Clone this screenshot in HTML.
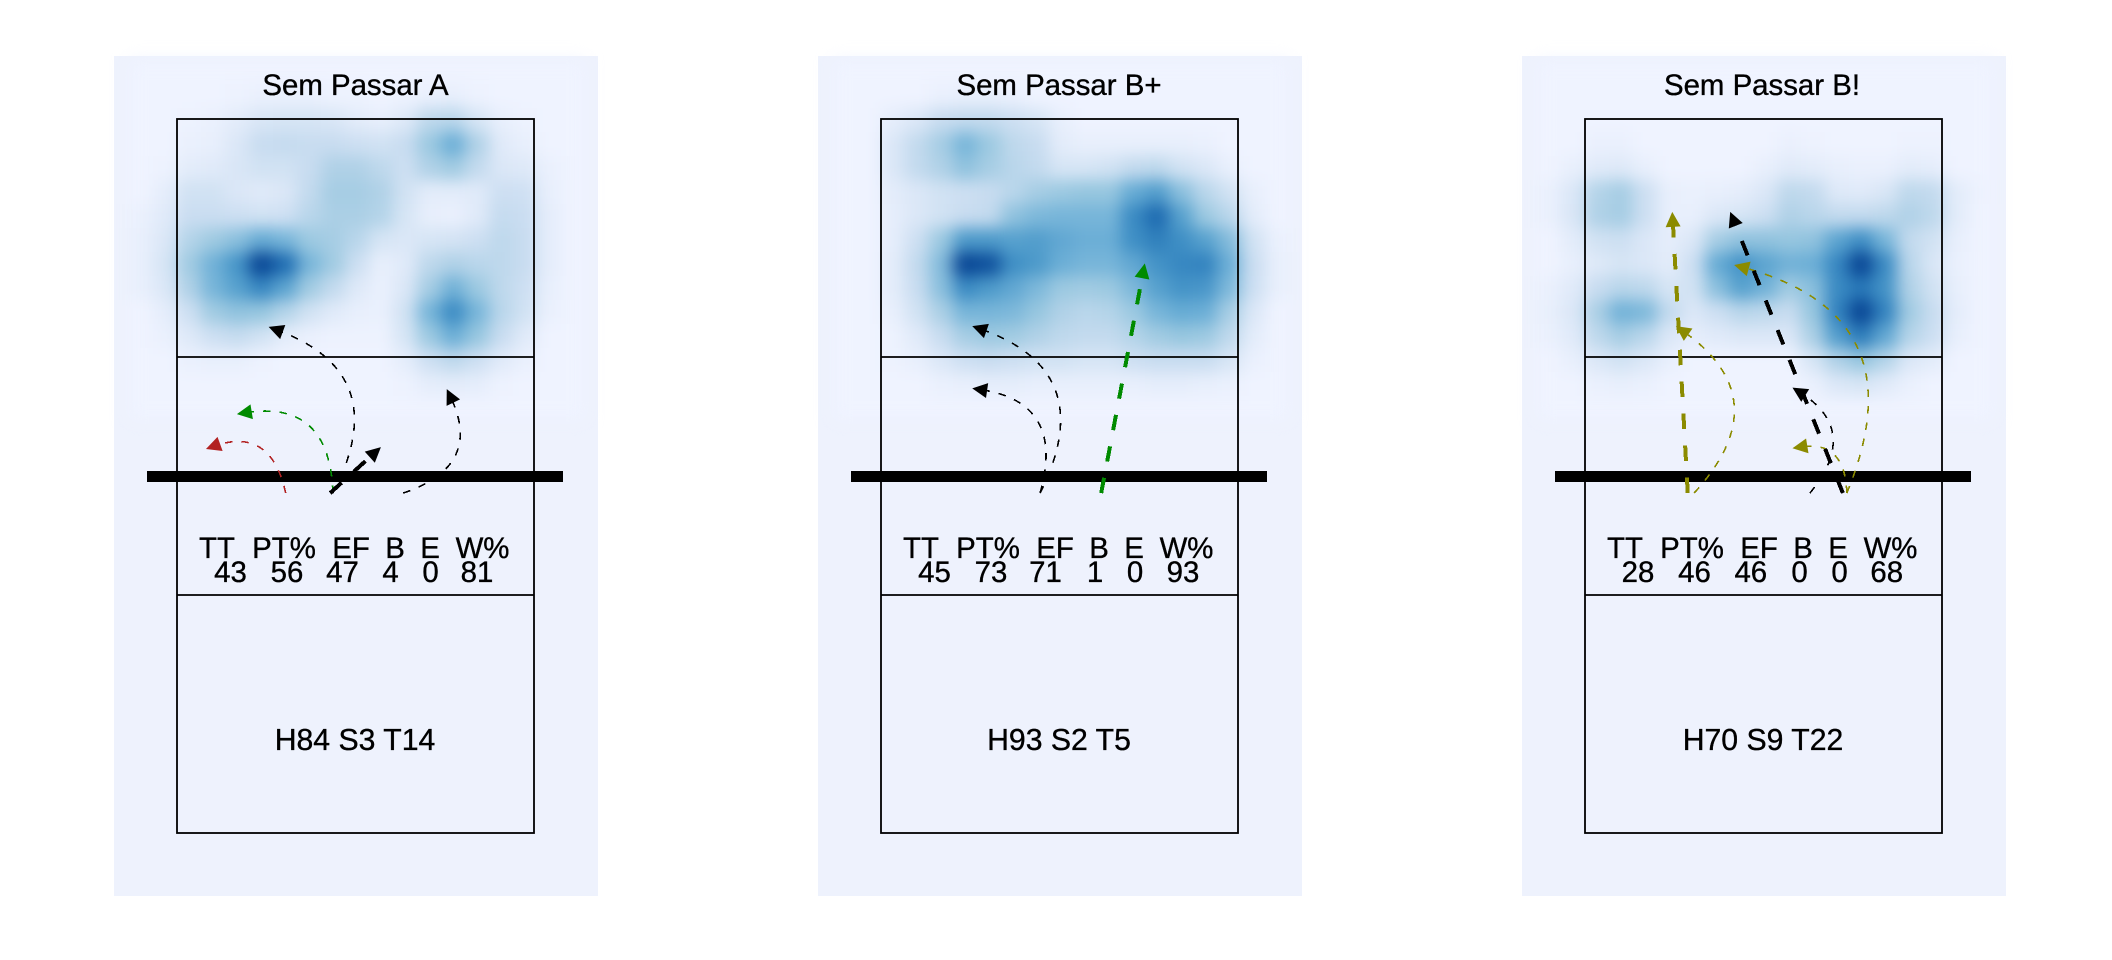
<!DOCTYPE html>
<html lang="pt">
<head>
<meta charset="utf-8">
<title>Sem Passar attack charts</title>
<style>
html,body{margin:0;padding:0;background:#fff;width:2112px;height:960px;overflow:hidden}
svg{display:block}
text{font-family:"Liberation Sans",Arial,sans-serif;fill:#000;stroke:#000;stroke-width:.35px;font-size:29.4px;text-anchor:middle}
text.zone{font-size:30.2px}
.court{fill:none;stroke:#000;stroke-width:1.8}
.panel-bg{fill:#eef2fd}
</style>
</head>
<body>
<svg id="chart" xmlns="http://www.w3.org/2000/svg" width="2112" height="960" viewBox="0 0 2112 960">
  <defs>
    <filter id="heat-blur" filterUnits="userSpaceOnUse" x="60" y="20" width="600" height="460" color-interpolation-filters="sRGB">
      <feGaussianBlur stdDeviation="8"/>
    </filter>
  </defs>
  <rect x="0" y="0" width="2112" height="960" fill="#fff"/>

  <g id="panel-a">
    <rect class="panel-bg" x="114" y="56" width="484" height="840"/>
    <g class="heat" filter="url(#heat-blur)"></g>
    <text x="355.5" y="95">Sem Passar A</text>
    <rect class="court" x="177" y="119" width="357" height="714"/>
    <line class="court" x1="177" y1="357" x2="534" y2="357"/>
    <line class="court" x1="177" y1="595" x2="534" y2="595"/>
    <rect x="147" y="471" width="416" height="11" fill="#000"/>
    <g class="arrows"></g>
    <text x="217" y="558">TT</text>
    <text x="284" y="558">PT%</text>
    <text x="351" y="558">EF</text>
    <text x="395" y="558">B</text>
    <text x="430" y="558">E</text>
    <text x="482.5" y="558">W%</text>
    <text x="230.5" y="582">43</text>
    <text x="287" y="582">56</text>
    <text x="342.5" y="582">47</text>
    <text x="390.5" y="582">4</text>
    <text x="430.5" y="582">0</text>
    <text x="477" y="582">81</text>
    <text class="zone" x="355" y="750">H84 S3 T14</text>
  </g>

  <g id="panel-b" transform="translate(704,0)">
    <rect class="panel-bg" x="114" y="56" width="484" height="840"/>
    <g class="heat" filter="url(#heat-blur)"></g>
    <text x="355" y="95">Sem Passar B+</text>
    <rect class="court" x="177" y="119" width="357" height="714"/>
    <line class="court" x1="177" y1="357" x2="534" y2="357"/>
    <line class="court" x1="177" y1="595" x2="534" y2="595"/>
    <rect x="147" y="471" width="416" height="11" fill="#000"/>
    <g class="arrows"></g>
    <text x="217" y="558">TT</text>
    <text x="284" y="558">PT%</text>
    <text x="351" y="558">EF</text>
    <text x="395" y="558">B</text>
    <text x="430" y="558">E</text>
    <text x="482.5" y="558">W%</text>
    <text x="230.5" y="582">45</text>
    <text x="287" y="582">73</text>
    <text x="341.5" y="582">71</text>
    <text x="391" y="582">1</text>
    <text x="431" y="582">0</text>
    <text x="479" y="582">93</text>
    <text class="zone" x="355" y="750">H93 S2 T5</text>
  </g>

  <g id="panel-c" transform="translate(1408,0)">
    <rect class="panel-bg" x="114" y="56" width="484" height="840"/>
    <g class="heat" filter="url(#heat-blur)"></g>
    <text x="354" y="95">Sem Passar B!</text>
    <rect class="court" x="177" y="119" width="357" height="714"/>
    <line class="court" x1="177" y1="357" x2="534" y2="357"/>
    <line class="court" x1="177" y1="595" x2="534" y2="595"/>
    <rect x="147" y="471" width="416" height="11" fill="#000"/>
    <g class="arrows"></g>
    <text x="217" y="558">TT</text>
    <text x="284" y="558">PT%</text>
    <text x="351" y="558">EF</text>
    <text x="395" y="558">B</text>
    <text x="430" y="558">E</text>
    <text x="482.5" y="558">W%</text>
    <text x="230" y="582">28</text>
    <text x="286.5" y="582">46</text>
    <text x="342.8" y="582">46</text>
    <text x="391.5" y="582">0</text>
    <text x="431.5" y="582">0</text>
    <text x="478.7" y="582">68</text>
    <text class="zone" x="355" y="750">H70 S9 T22</text>
  </g>
</svg>

<script>
// Heat density per coarse court cell (0-100+), one row per 24px band.
var heatA = [
[0,0,0,0,0,0,0,0,0,0,0,0,0,0,0,0,0,0,0],
[0,0,0,0,1,2,2,2,1,1,0,1,2,3,1,0,0,0,0],
[0,0,1,2,5,9,10,10,9,5,3,7,20,22,10,3,1,0,0],
[0,0,2,3,8,16,17,16,16,14,12,16,34,50,26,6,3,0,0],
[0,1,5,6,9,12,12,16,26,26,20,14,26,32,18,8,7,2,0],
[0,4,12,12,8,6,8,18,30,30,26,12,5,5,6,14,13,3,0],
[2,6,15,15,14,12,13,22,28,28,24,10,3,2,6,17,15,4,0],
[3,8,24,33,40,52,46,34,30,22,10,8,10,11,14,20,16,4,0],
[3,10,32,48,65,108,85,46,32,14,3,6,20,26,22,20,16,4,0],
[3,8,26,46,58,72,56,32,18,7,2,8,30,48,34,20,14,3,0],
[0,4,14,32,38,36,24,12,6,3,2,12,46,70,46,22,12,2,0],
[0,2,7,14,17,12,5,2,1,1,1,10,34,50,36,16,6,0,0],
[0,0,2,3,3,1,0,0,0,0,0,4,14,20,14,6,2,0,0],
[0,0,0,0,0,0,0,0,0,0,0,1,4,5,4,1,0,0,0],
[0,0,0,0,0,0,0,0,0,0,0,0,0,0,0,0,0,0,0]
];
var heatB = [
[0,0,0,0,0,0,0,0,0,0,0,0,0,0,0,0,0,0,0],
[0,0,0,0,2,3,3,2,0,0,0,0,0,0,0,0,0,0,0],
[0,0,4,8,16,18,18,14,10,3,0,0,0,0,0,0,0,0,0],
[0,0,8,18,30,46,34,20,16,5,3,3,3,3,3,2,0,0,0],
[0,0,8,18,26,38,30,22,18,10,10,12,18,20,12,8,3,0,0],
[0,0,5,8,12,14,16,22,30,34,36,36,52,60,40,22,12,3,0],
[0,0,4,8,12,16,18,38,44,46,46,46,70,86,58,34,22,5,0],
[0,0,4,14,34,62,62,58,60,54,50,50,68,76,68,58,42,12,2],
[0,0,5,18,42,100,96,68,62,50,46,46,54,66,72,74,50,15,3],
[0,0,5,16,40,70,62,54,44,34,32,34,44,58,66,64,44,14,3],
[0,0,3,12,28,46,46,44,36,26,22,24,34,46,52,50,30,8,0],
[0,0,1,6,16,30,34,32,26,20,18,18,24,32,36,34,20,5,0],
[0,0,1,3,8,14,16,14,12,12,10,10,14,16,16,16,10,2,0],
[0,0,0,0,2,3,4,4,3,3,3,3,3,4,4,3,2,0,0],
[0,0,0,0,0,0,0,0,0,0,0,0,0,0,0,0,0,0,0]
];
var heatC = [
[0,0,0,0,0,0,0,0,0,0,0,0,0,0,0,0,0,0,0],
[0,0,0,0,0,0,0,0,0,0,0,0,0,0,0,0,0,0,0],
[0,0,0,0,0,0,0,0,0,0,0,0,0,0,0,0,0,0,0],
[0,0,2,2,0,0,0,0,0,0,2,1,0,0,0,1,1,0,0],
[0,3,6,7,3,0,0,0,0,3,6,5,3,2,2,5,4,0,0],
[2,8,24,30,14,3,2,3,4,8,20,18,7,6,9,20,18,5,1],
[2,9,26,30,14,3,3,8,10,14,26,22,18,18,20,26,20,5,0],
[0,5,12,14,8,4,8,30,38,38,36,38,56,68,46,18,12,3,0],
[0,3,7,10,8,5,14,52,66,56,48,50,72,106,70,22,9,2,0],
[2,6,16,22,20,10,12,40,58,48,32,40,70,80,66,26,12,3,0],
[3,8,28,48,44,18,8,14,22,20,16,36,74,106,74,32,16,4,0],
[2,6,20,30,22,8,4,6,8,8,8,28,60,78,54,24,14,3,0],
[0,3,8,12,8,3,0,0,0,0,0,10,26,36,24,8,5,0,0],
[0,0,2,3,2,0,0,0,0,0,0,2,8,10,6,2,0,0,0],
[0,0,0,0,0,0,0,0,0,0,0,0,0,0,0,0,0,0,0]
];

// Attacks in court metres: [startX, startY, endX, endY, curvature, weight, outcome]
var arrowsA = [
[2.74,9.43,0.73,8.32,0.57,1,"error"],
[3.93,9.43,1.51,7.44,0.57,1,"kill"],
[3.93,9.43,2.31,5.24,0.57,1,"neutral"],
[3.86,9.43,5.14,8.27,0,2,"neutral"],
[5.70,9.43,6.80,6.81,0.57,1,"neutral"]
];
var arrowsB = [
[4.01,9.43,2.30,6.79,0.57,1,"neutral"],
[4.01,9.43,2.30,5.22,0.57,1,"neutral"],
[5.55,9.43,6.65,3.64,0,2,"kill"]
];
var arrowsC = [
[2.59,9.43,2.20,2.34,0,2,"covered"],
[2.75,9.43,2.29,5.22,0.57,1,"covered"],
[6.60,9.43,3.76,3.68,0.57,1,"covered"],
[6.60,9.43,5.23,8.30,0.57,1,"covered"],
[6.50,9.43,3.66,2.34,0,2,"neutral"],
[5.67,9.43,5.23,6.77,0.57,1,"neutral"]
];

var outcomeColors = {neutral:"#000000", kill:"#008b00", error:"#b22222", covered:"#8b8b00"};
var heatStops = ["#eff3ff","#c6dbef","#9ecae1","#6baed6","#4292c6","#2171b5","#084594"];

var SVG_NS = "http://www.w3.org/2000/svg";
var COURT_LEFT = 177, COURT_TOP = 119, PX_PER_M = 39.67;
var HEAT_LEFT = 129, HEAT_TOP = 60, HEAT_CELL = 24;

function xScale(m){ return COURT_LEFT + m * PX_PER_M; }
function yScale(m){ return COURT_TOP + m * PX_PER_M; }
function cellX(i){ return HEAT_LEFT + i * HEAT_CELL; }
function cellY(j){ return HEAT_TOP + j * HEAT_CELL; }

function hexToRgb(h){
  return [parseInt(h.substr(1,2),16), parseInt(h.substr(3,2),16), parseInt(h.substr(5,2),16)];
}
function colorScale(v){
  var t = Math.max(0, Math.min(1, v / 100)) * (heatStops.length - 1);
  var k = Math.min(heatStops.length - 2, Math.floor(t));
  var a = hexToRgb(heatStops[k]), b = hexToRgb(heatStops[k + 1]), f = t - k;
  return "rgb(" + Math.round(a[0] + (b[0] - a[0]) * f) + "," +
                  Math.round(a[1] + (b[1] - a[1]) * f) + "," +
                  Math.round(a[2] + (b[2] - a[2]) * f) + ")";
}

function drawHeat(group, grid){
  for (var j = 0; j < grid.length; j++) {
    for (var i = 0; i < grid[j].length; i++) {
      var r = document.createElementNS(SVG_NS, "rect");
      r.setAttribute("x", cellX(i));
      r.setAttribute("y", cellY(j));
      r.setAttribute("width", HEAT_CELL + 0.5);
      r.setAttribute("height", HEAT_CELL + 0.5);
      r.setAttribute("fill", colorScale(grid[j][i]));
      
      
      group.appendChild(r);
    }
  }
}

function drawArrow(group, a){
  var x0 = xScale(a[0]), y0 = yScale(a[1]), x1 = xScale(a[2]), y1 = yScale(a[3]);
  var curv = a[4], thick = a[5] > 1, col = outcomeColors[a[6]];
  var dx = x1 - x0, dy = y1 - y0, len = Math.sqrt(dx * dx + dy * dy);
  var cx = (x0 + x1) / 2 + (-dy / len) * curv * len;
  var cy = (y0 + y1) / 2 + (dx / len) * curv * len;
  var tx = x1 - cx, ty = y1 - cy, tl = Math.sqrt(tx * tx + ty * ty);
  tx /= tl; ty /= tl;
  var ex = x1 - tx * 8, ey = y1 - ty * 8;

  var p = document.createElementNS(SVG_NS, "path");
  p.setAttribute("d", "M" + x0 + " " + y0 + " Q" + cx + " " + cy + " " + ex + " " + ey);
  p.setAttribute("fill", "none");
  p.setAttribute("stroke", col);
  p.setAttribute("stroke-width", thick ? 4 : 1.6);
  p.setAttribute("stroke-dasharray", thick ? "15.5 16.5" : "7.5 9");
  p.setAttribute("shape-rendering", "crispEdges");
  
  
  group.appendChild(p);

  var bx = x1 - tx * 15, by = y1 - ty * 15;
  var h = document.createElementNS(SVG_NS, "polygon");
  h.setAttribute("points", x1 + "," + y1 + " " +
    (bx - ty * 7.5) + "," + (by + tx * 7.5) + " " +
    (bx + ty * 7.5) + "," + (by - tx * 7.5));
  h.setAttribute("fill", col);
  
  
  group.appendChild(h);
}

function drawPanel(id, grid, arrows){
  var panel = document.getElementById(id);
  drawHeat(panel.querySelector(".heat"), grid);
  var g = panel.querySelector(".arrows");
  for (var i = 0; i < arrows.length; i++) drawArrow(g, arrows[i]);
}

drawPanel("panel-a", heatA, arrowsA);
drawPanel("panel-b", heatB, arrowsB);
drawPanel("panel-c", heatC, arrowsC);
</script>
</body>
</html>
